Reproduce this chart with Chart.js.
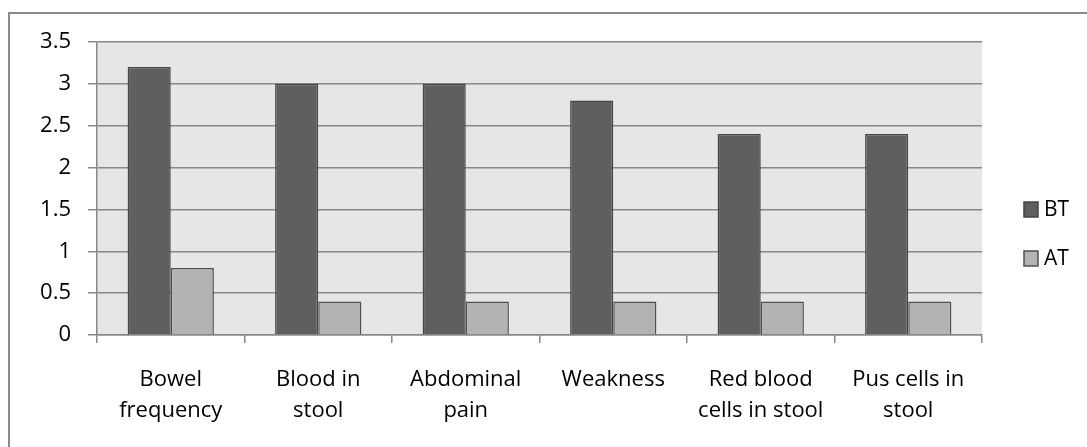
<!DOCTYPE html>
<html>
<head>
<meta charset="utf-8">
<script src="https://cdn.jsdelivr.net/npm/chart.js@4"></script>
<style>
  body { margin: 0; background: #fff; }
  #frame { position: absolute; left: 8px; top: 12px; width: 1120px; height: 480px;
           border-top: 2px solid #8a8a8a; border-left: 2px solid #8a8a8a; }
  #wrap { position: absolute; left: 0; top: 0; width: 1087px; height: 447px; }
</style>
</head>
<body>
<div id="frame"></div>
<div id="wrap"><canvas id="chart"></canvas></div>
<script>
// dados
const categorias = [["Bowel", "frequency"], ["Blood in", "stool"], ["Abdominal", "pain"], "Weakness", ["Red blood", "cells in stool"], ["Pus cells in", "stool"]];
const bt = [3.2, 3.0, 3.0, 2.8, 2.4, 2.4];
const at = [0.8, 0.4, 0.4, 0.4, 0.4, 0.4];
const ticksY = [0, 0.5, 1, 1.5, 2, 2.5, 3, 3.5];

const fonte = "Open Sans";

// fundo cinza da área do gráfico
const fundo = {
  id: "fundo",
  beforeDraw(chart) {
    const a = chart.chartArea, c = chart.ctx;
    c.save();
    c.fillStyle = "#e6e6e6";
    c.fillRect(a.left, a.top, a.right - a.left, a.bottom - a.top);
    c.restore();
  }
};

// legenda à direita, no meio do quadro
const legenda = {
  id: "legenda",
  afterDraw(chart) {
    const c = chart.ctx;
    c.save();
    c.font = "21px '" + fonte + "'";
    c.textBaseline = "middle";
    chart.data.datasets.forEach((ds, i) => {
      const y = 209 + i * 49;
      c.fillStyle = ds.backgroundColor;
      c.fillRect(1024, y - 7, 14, 15);
      c.strokeStyle = ds.borderColor;
      c.lineWidth = 1.5;
      c.strokeRect(1024, y - 7, 14, 15);
      c.fillStyle = "#000";
      c.fillText(ds.label, 1044, y + 1);
    });
    c.restore();
  }
};

const ctx = document.getElementById("chart");

new Chart(ctx, {
  type: "bar",
  data: {
    labels: categorias,
    datasets: [{
      label: "BT",
      data: bt,
      backgroundColor: "#5f5f5f",
      borderColor: "#464646",
      borderWidth: 1.5
    }, {
      label: "AT",
      data: at,
      backgroundColor: "#b3b3b3",
      borderColor: "#505050",
      borderWidth: 1.5
    }]
  },
  options: {
    responsive: true,
    maintainAspectRatio: false,
    animation: false,
    layout: { padding: { top: 42, right: 105, left: 0, bottom: 0 } },
    datasets: { bar: { categoryPercentage: 0.585, barPercentage: 1 } },
    plugins: {
      legend: { display: false },
      tooltip: { enabled: false }
    },
    scales: {
      x: {
        grid: { offset: true, drawOnChartArea: false, color: "#888", lineWidth: 1.5, tickLength: 8 },
        border: { color: "#888", width: 1.5 },
        ticks: { color: "#000", font: { family: fonte, size: 22, lineHeight: 1.41 }, padding: 21, maxRotation: 0, autoSkip: false },
        afterFit(s) { s.height = 112; }
      },
      y: {
        min: 0,
        max: 3.5,
        afterBuildTicks(s) { s.ticks = ticksY.map(v => ({ value: v })); },
        grid: { color: "#888", lineWidth: 1.5, tickLength: 9 },
        border: { color: "#888", width: 1.5 },
        ticks: { color: "#000", font: { family: fonte, size: 22 }, padding: 17, callback: v => String(v) },
        afterFit(s) { s.width = 97; }
      }
    }
  },
  plugins: [fundo, legenda]
});
</script>
</body>
</html>
